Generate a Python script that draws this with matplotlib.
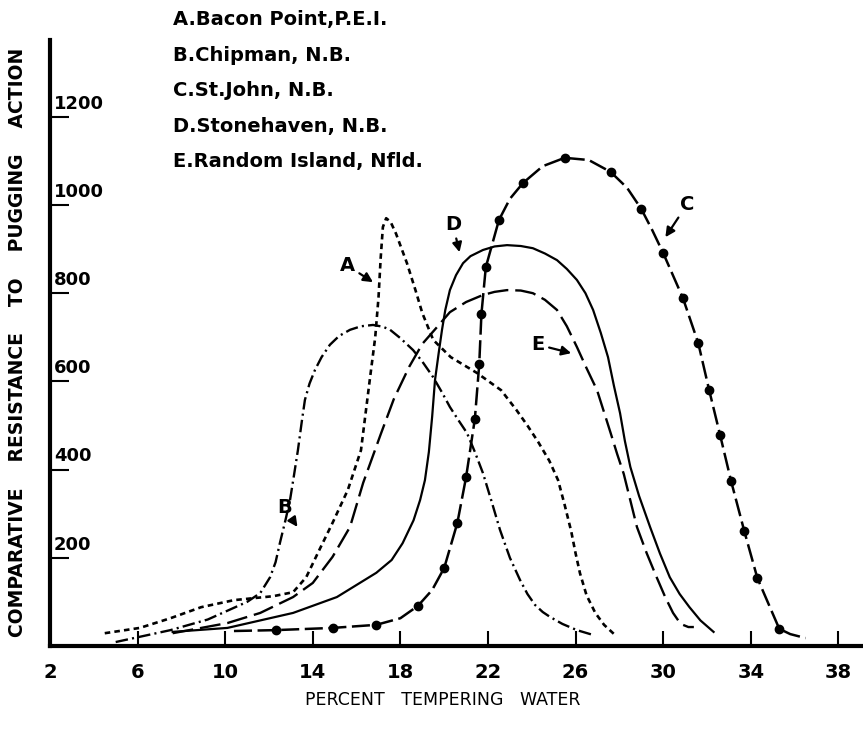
import numpy as np
import matplotlib.pyplot as plt

plt.rcParams['font.family'] = ['DejaVu Sans']
plt.rcParams['lines.scale_dashes'] = False

# 数据
a_x = [4.5, 6.1, 7.5, 8.9, 10.4, 12.2, 13.1, 13.7, 14.3, 14.9, 15.6, 16.2, 16.6, 16.85, 17.0,
       17.1, 17.2, 17.35, 17.55, 17.8, 18.3, 18.7, 19.0, 19.5, 20.3, 21.5, 22.6, 23.3, 23.8,
       24.3, 24.8, 25.2, 25.5, 25.8, 26.0, 26.2, 26.5, 26.9, 27.3, 27.8]
a_y = [29, 41, 63, 88, 104, 113, 122, 156, 218, 279, 354, 444, 603, 700, 790,
       880, 950, 970, 962, 935, 868, 805, 755, 694, 655, 619, 580, 535, 500,
       462, 420, 376, 320, 260, 210, 165, 115, 75, 48, 25]

b_x = [5.0, 7.5, 9.2, 11.0, 11.6, 12.05, 12.3, 12.5, 12.75, 12.96, 13.15, 13.32, 13.5, 13.64,
       13.85, 14.1, 14.4, 14.78, 15.2, 15.7, 16.2, 16.75, 17.2, 17.53, 18.0, 18.58, 19.0, 19.49,
       19.9, 20.26, 20.65, 21.04, 21.4, 21.77, 22.15, 22.55, 23.0, 23.46, 23.8, 24.15, 24.5,
       24.83, 25.4, 26.06, 26.8]
b_y = [9, 36, 60, 100, 120, 156, 190, 234, 285, 331, 390, 444, 510, 558,
       595, 626, 655, 683, 703, 717, 725, 728, 724, 717, 698, 671, 645, 610,
       575, 542, 512, 483, 440, 392, 330, 263, 200, 150, 118, 93, 77,
       66, 50, 36, 25]

# C 曲线 (线) 与其上的圆点
c_x = [10.4, 12.3, 14.9, 16.9, 18.0, 18.8, 19.45, 20.0, 20.6, 21.0, 21.4, 21.6, 21.7, 21.9,
       22.5, 23.0, 23.6, 24.5, 25.5, 26.6, 27.6, 28.35, 29.0, 29.5, 30.0, 30.9, 31.6, 32.1,
       32.6, 33.1, 33.7, 34.3, 35.3, 35.8, 36.5]
c_y = [34, 36, 41, 48, 63, 91, 127, 177, 279, 383, 515, 639, 753, 859,
       966, 1014, 1050, 1088, 1107, 1102, 1075, 1039, 991, 943, 891, 789, 687, 580,
       478, 374, 261, 154, 39, 27, 18]
c_dot_x = [12.3, 14.9, 16.9, 18.8, 20.0, 20.6, 21.0, 21.4, 21.6, 21.7, 21.9, 22.5, 23.6, 25.5,
           27.6, 29.0, 30.0, 30.9, 31.6, 32.1, 32.6, 33.1, 33.7, 34.3, 35.3]
c_dot_y = [36, 41, 48, 91, 177, 279, 383, 515, 639, 753, 859, 966, 1050, 1107,
           1075, 991, 891, 789, 687, 580, 478, 374, 261, 154, 39]

d_x = [7.6, 10.1, 13.1, 15.1, 16.9, 17.6, 18.1, 18.6, 18.9, 19.12, 19.3, 19.45, 19.58, 19.75,
       19.9, 20.05, 20.26, 20.54, 20.86, 21.2, 21.77, 22.3, 22.87, 23.5, 24.05, 24.6, 25.15,
       25.6, 26.06, 26.45, 26.8, 27.15, 27.48, 27.75, 28.03, 28.25, 28.5, 28.9, 29.4, 29.85,
       30.3, 30.75, 31.2, 31.7, 32.3]
d_y = [32, 41, 75, 111, 166, 195, 233, 285, 331, 376, 440, 520, 603, 665,
       717, 762, 807, 841, 868, 884, 898, 906, 909, 907, 902, 890, 875,
       855, 830, 800, 762, 710, 655, 590, 528, 465, 406, 340, 270, 210,
       156, 118, 88, 58, 32]

e_x = [7.6, 10.1, 11.6, 13.1, 14.0, 14.9, 15.7, 16.3, 17.1, 17.7, 18.4, 19.0, 19.67, 20.26,
       21.0, 21.77, 22.3, 22.87, 23.5, 24.05, 24.6, 25.15, 25.6, 26.06, 26.5, 26.98, 27.3,
       27.6, 27.9, 28.2, 28.5, 28.8, 29.25, 29.7, 30.1, 30.45, 30.7, 30.9, 31.15, 31.4]
e_y = [29, 52, 75, 111, 143, 202, 270, 370, 480, 560, 633, 685, 723, 757,
       780, 796, 803, 807, 806, 800, 785, 762, 725, 678, 630, 580, 530,
       483, 435, 390, 330, 270, 210, 156, 110, 75, 57, 48, 43, 43]

x_ticks = [2, 6, 10, 14, 18, 22, 26, 30, 34, 38]
y_ticks = [200, 400, 600, 800, 1000, 1200]
legend_lines = ['A.Bacon Point,P.E.I.', 'B.Chipman, N.B.', 'C.St.John, N.B.',
                'D.Stonehaven, N.B.', 'E.Random Island, Nfld.']

# 标注: 文字位置, 箭头终点
notes = {'A': ((15.6, 862), (16.75, 825)),
         'B': ((12.7, 313), (13.3, 270)),
         'C': ((31.1, 1002), (30.1, 927)),
         'D': ((20.4, 955), (20.7, 893)),
         'E': ((24.3, 683), (25.8, 664))}

W, H = 863, 729
fig = plt.figure(figsize=(W / 100, H / 100), dpi=100)
ax = fig.add_axes([50 / W, 1 - 646 / H, 1 - 50 / W, (646 - 40) / H])
ax.set_xlim(2, 2 + (W - 50) / 21.9)
ax.set_ylim(0, (646 - 40) / 0.441)

k = 'black'
ax.plot(a_x, a_y, color=k, lw=1.9, ls=(0, (4, 3)))
ax.plot(b_x, b_y, color=k, lw=1.7, ls=(0, (9, 3, 1.5, 3)))
ax.plot(c_x, c_y, color=k, lw=1.8, ls=(0, (13, 4)))
ax.plot(c_dot_x, c_dot_y, 'o', color=k, ms=6)
ax.plot(d_x, d_y, color=k, lw=1.6)
ax.plot(e_x, e_y, color=k, lw=1.7, ls=(0, (15, 5)))

for lab, (txt, tip) in notes.items():
    ax.annotate(lab, xy=tip, xytext=txt, fontsize=14, fontweight='bold', ha='center',
                va='center',
                arrowprops=dict(arrowstyle='-|>', color=k, lw=1.6, shrinkA=1, shrinkB=0,
                                mutation_scale=14))

for s in ['top', 'right']:
    ax.spines[s].set_visible(False)
for s in ['left', 'bottom']:
    ax.spines[s].set_linewidth(3)

ax.set_xticks(x_ticks)
ax.set_xticklabels([str(v) for v in x_ticks], fontsize=14, fontweight='bold')
ax.tick_params(axis='x', direction='in', length=11, width=1.5, pad=12)
ax.set_yticks(y_ticks)
ax.set_yticklabels([])
ax.tick_params(axis='y', direction='in', length=14, width=1.5)
for v in y_ticks:
    ax.text(0.005, v + 30, str(v), transform=ax.get_yaxis_transform(), fontsize=13,
            fontweight='bold', ha='left', va='center')

for i, t in enumerate(legend_lines):
    fig.text(173 / W, 1 - (20 + 35.5 * i) / H, t, fontsize=14, fontweight='bold',
             ha='left', va='center')

fig.text(18 / W, 1 - 342 / H, 'COMPARATIVE    RESISTANCE    TO    PUGGING    ACTION',
         rotation=90, fontsize=13.5, fontweight='bold', ha='center', va='center')
fig.text(443 / W, 1 - 700 / H, 'PERCENT   TEMPERING   WATER', fontsize=12.5,
         ha='center', va='center')

fig.savefig('out.png', dpi=100)
